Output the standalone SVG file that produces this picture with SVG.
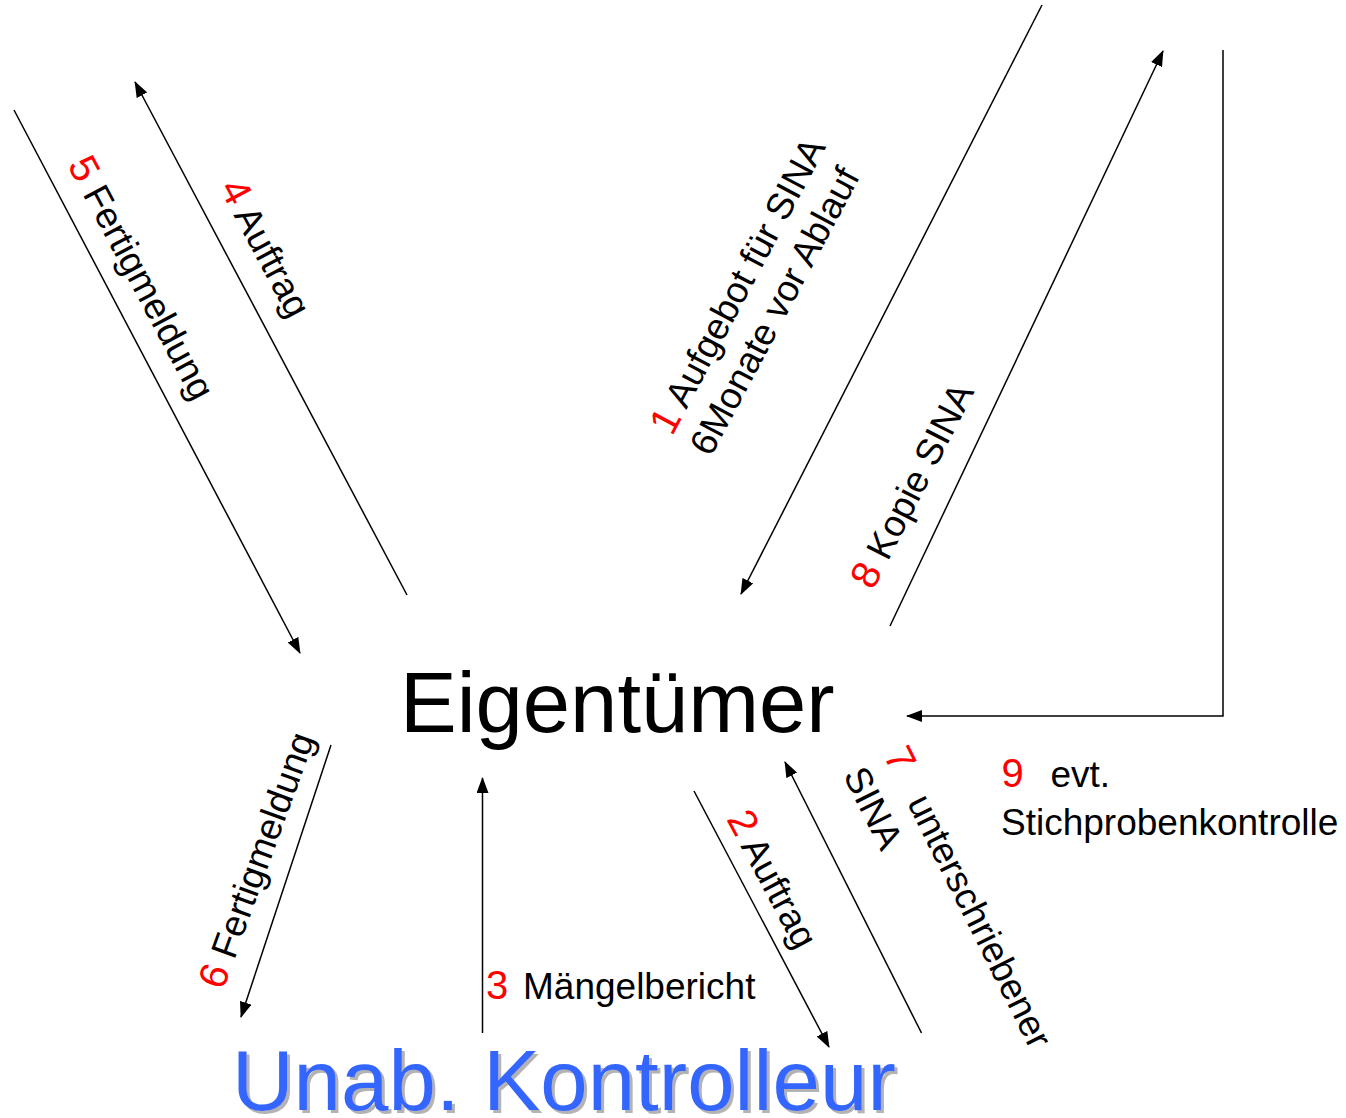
<svg xmlns="http://www.w3.org/2000/svg" width="1346" height="1118" viewBox="0 0 1346 1118">
  <style>
    .t { font-family: "Liberation Sans", Arial, sans-serif; font-size: 37px; fill: #000; }
    .n { fill: #ff0000; font-size: 40px; }
    .big { font-family: "Liberation Sans", Arial, sans-serif; }
    .c { fill: none; stroke: #000; stroke-width: 1.5; }
    .a { marker-end: url(#arr); }
  </style>
  <defs>
    <marker id="arr" markerUnits="userSpaceOnUse" viewBox="0 0 16 12" refX="15" refY="6" markerWidth="16" markerHeight="12" orient="auto">
      <polygon points="0,0 16,6 0,12" fill="#000"/>
    </marker>
    <filter id="shadow" x="-5%" y="-20%" width="110%" height="140%">
      <feOffset in="SourceAlpha" dx="3" dy="3" result="off"/>
      <feFlood flood-color="#b3b3b3"/>
      <feComposite in2="off" operator="in" result="sh"/>
      <feMerge><feMergeNode in="sh"/><feMergeNode in="SourceGraphic"/></feMerge>
    </filter>
  </defs>
  <rect width="1346" height="1118" fill="#fff"/>

  <g id="connectors">
    <line class="c a" x1="14" y1="110" x2="300" y2="653"/>
    <line class="c a" x1="407" y1="595" x2="135" y2="82"/>
    <line class="c a" x1="1042" y1="5" x2="741" y2="594"/>
    <line class="c a" x1="890" y1="626" x2="1163" y2="51"/>
    <polyline class="c a" points="1223,50 1223,716 907,716"/>
    <line class="c a" x1="331" y1="745" x2="241" y2="1017"/>
    <line class="c a" x1="482.5" y1="1033" x2="482.5" y2="778"/>
    <line class="c a" x1="694" y1="791" x2="829" y2="1047"/>
    <line class="c a" x1="921.5" y1="1033" x2="785" y2="762"/>
  </g>

  <g id="node-eigentuemer">
    <text class="big" x="400" y="732" font-size="85" fill="#000">Eigentümer</text>
  </g>

  <g id="node-kontrolleur">
    <text class="big" x="232" y="1110" font-size="85.3" fill="#3366ff" filter="url(#shadow)">Unab. Kontrolleur</text>
  </g>

  <g id="labels">
    <text class="t" transform="translate(672,437) rotate(-62)"><tspan class="n">1</tspan> Aufgebot für SINA<tspan x="0" dy="44">6Monate vor Ablauf</tspan></text>
    <text class="t" transform="translate(726,819) rotate(62)"><tspan class="n">2</tspan> Auftrag</text>
    <text class="t" x="486" y="999"><tspan class="n">3</tspan><tspan x="523">Mängelbericht</tspan></text>
    <text class="t" transform="translate(219,188) rotate(62)"><tspan class="n">4</tspan> Auftrag</text>
    <text class="t" transform="translate(67,165) rotate(62)"><tspan class="n">5</tspan> Fertigmeldung</text>
    <text class="t" transform="translate(223,991) rotate(-70)"><tspan class="n">6</tspan> Fertigmeldung</text>
    <text class="t" transform="translate(883,755) rotate(63.5)"><tspan class="n">7</tspan><tspan x="53">unterschriebener</tspan><tspan x="0" dy="45">SINA</tspan></text>
    <text class="t" transform="translate(873,591) rotate(-63)"><tspan class="n">8</tspan> Kopie SINA</text>
    <text class="t" x="1001.5" y="787"><tspan class="n">9</tspan><tspan x="1050.5">evt.</tspan><tspan x="1001" y="835">Stichprobenkontrolle</tspan></text>
  </g>
</svg>
